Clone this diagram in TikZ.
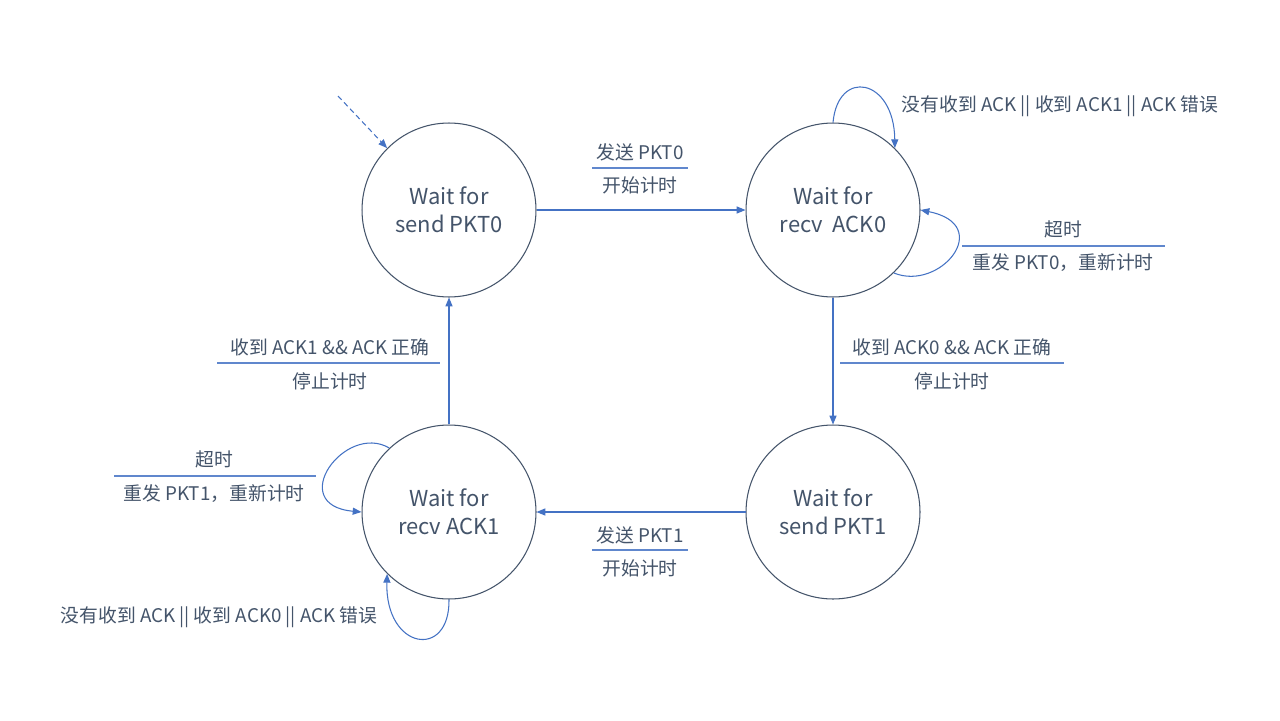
\documentclass[tikz,border=0pt]{standalone}
\usepackage{fontspec}
\setmainfont{Noto Sans CJK SC}
\usetikzlibrary{arrows.meta}

\definecolor{statecol}{HTML}{44546A}
\definecolor{edgecol}{HTML}{4472C4}
\definecolor{txtcol}{HTML}{44546A}

\tikzset{
    state/.style={circle, draw=statecol, line width=0.6pt, minimum size=3.48cm,
        inner sep=0pt, align=center, text=statecol, font=\fontsize{12.5}{15.9}\selectfont},
    trans/.style={draw=edgecol, line width=0.6pt, -{Triangle[length=5pt,width=4pt]}},
    lbl/.style={text=txtcol, font=\fontsize{10.7}{13}\selectfont, inner sep=1pt},
    bar/.style={draw=edgecol!85, line width=0.7pt}
}

\begin{document}
\begin{tikzpicture}[x=0.02cm, y=-0.02cm]
    \fill[white] (0,0) rectangle (1280,720);
    \useasboundingbox (0,0) rectangle (1280,720);

    % States
    \node[state] (p0) at (449,210) {Wait for\\send PKT0};
    \node[state] (a0) at (833,210) {Wait for\\recv\ \ ACK0};
    \node[state] (p1) at (833,512) {Wait for\\send PKT1};
    \node[state] (a1) at (449,512) {Wait for\\recv ACK1};

    % Start
    \coordinate (init) at (338,96);
    \draw[trans, dashed, dash pattern=on 3pt off 2pt] (init) -- (p0.135);

    % Transitions
    \draw[trans] (p0) -- (a0);
    \draw[trans] (a0) -- (p1);
    \draw[trans] (p1) -- (a1);
    \draw[trans] (a1) -- (p0);

    % Self loops
    \draw[trans] (a0.90) .. controls (838,68) and (894,78) .. (a0.45);
    \draw[trans] (a0.-46) .. controls (940,292) and (995,225) .. (a0.0);
    \draw[trans] (a1.133) .. controls (345,422) and (285,505) .. (a1.180);
    \draw[trans] (a1.270) .. controls (450,660) and (385,650) .. (a1.225);

    % Labels
    \node[lbl] (s0a) at (640,152) {发送 PKT0};
    \node[lbl] (s0b) at (640,185) {开始计时};
    \draw[bar] (592,168) -- (688,168);

    \node[lbl] (r0a) at (952,347) {收到 ACK0 \&\& ACK 正确};
    \node[lbl] (r0b) at (952,381) {停止计时};
    \draw[bar] (840,363) -- (1064,363);

    \node[lbl] (s1a) at (640,535) {发送 PKT1};
    \node[lbl] (s1b) at (640,568) {开始计时};
    \draw[bar] (592,550) -- (688,550);

    \node[lbl] (r1a) at (330,347) {收到 ACK1 \&\& ACK 正确};
    \node[lbl] (r1b) at (330,381) {停止计时};
    \draw[bar] (217,363) -- (440,363);

    \node[lbl] (e0) at (1060,106) {没有收到 ACK || 收到 ACK1 || ACK 错误};
    \node[lbl] (t0a) at (1063,229) {超时};
    \node[lbl] (t0b) at (1063,263) {重发 PKT0，重新计时};
    \draw[bar] (962,246) -- (1165,246);

    \node[lbl] (t1a) at (214,459) {超时};
    \node[lbl] (t1b) at (214,494) {重发 PKT1，重新计时};
    \draw[bar] (114,476) -- (316,476);
    \node[lbl] (e1) at (219,617) {没有收到 ACK || 收到 ACK0 || ACK 错误};
\end{tikzpicture}
\end{document}
